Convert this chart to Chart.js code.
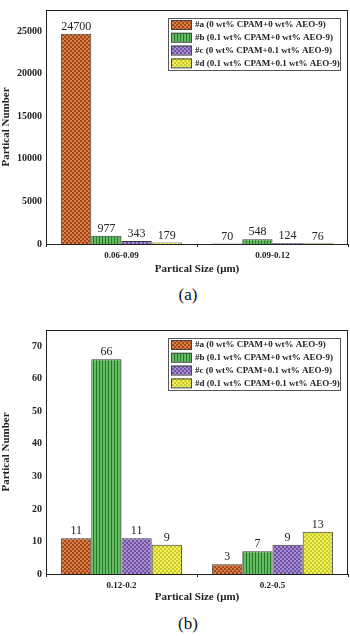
<!DOCTYPE html>
<html>
<head>
<meta charset="utf-8">
<script src="https://cdn.jsdelivr.net/npm/chart.js@4.4.1/dist/chart.umd.min.js"></script>
<style>
  html, body { margin: 0; padding: 0; background: #fff; }
  body { width: 350px; height: 636px; position: relative; overflow: hidden; }
  .box { position: absolute; left: 0; width: 350px; }
  .cap { position: absolute; width: 40px; text-align: center; font-family: "Liberation Serif", serif; font-size: 17px; color: #111; }
</style>
</head>
<body>
<div class="box" style="top:0;height:282px"><canvas id="chartA"></canvas></div>
<div class="cap" style="left:168px;top:285px">(a)</div>
<div class="box" style="top:320px;height:290px"><canvas id="chartB"></canvas></div>
<div class="cap" style="left:168px;top:614px">(b)</div>
<script>
const sizesA = ["0.06-0.09", "0.09-0.12"];
const sizesB = ["0.12-0.2", "0.2-0.5"];
const seriesNames = [
  "#a (0 wt% CPAM+0 wt% AEO-9)",
  "#b (0.1 wt% CPAM+0 wt% AEO-9)",
  "#c (0 wt% CPAM+0.1 wt% AEO-9)",
  "#d (0.1 wt% CPAM+0.1 wt% AEO-9)",
];
const aA = [24700, 70];
const bA = [977, 548];
const cA = [343, 124];
const dA = [179, 76];
const aB = [11, 3];
const bB = [66, 7];
const cB = [11, 9];
const dB = [9, 13];
const ticksA = [0, 5000, 10000, 15000, 20000, 25000];
const ticksB = [0, 10, 20, 30, 40, 50, 60, 70];

const serif = "'Liberation Serif', 'Times New Roman', serif";

// small tiles used as bar fills
function checker(light, dark) {
  const c = document.createElement("canvas");
  c.width = 4; c.height = 4;
  const g = c.getContext("2d");
  g.fillStyle = light; g.fillRect(0, 0, 4, 4);
  g.fillStyle = dark; g.fillRect(0, 0, 2, 2); g.fillRect(2, 2, 2, 2);
  return g.createPattern(c, "repeat");
}
function stripes(light, dark) {
  const c = document.createElement("canvas");
  c.width = 3; c.height = 3;
  const g = c.getContext("2d");
  g.fillStyle = light; g.fillRect(0, 0, 3, 3);
  g.fillStyle = dark; g.fillRect(0, 0, 1, 3);
  return g.createPattern(c, "repeat");
}
const fills = [
  checker("#d8824a", "#a4461a"),
  stripes("#62bc62", "#2a762a"),
  checker("#a78ccf", "#6f52a4"),
  checker("#eeee66", "#cccc22"),
];

const frame = {
  id: "frame",
  afterDraw(chart) {
    const { ctx, chartArea: a } = chart;
    ctx.save();
    ctx.strokeStyle = "#222";
    ctx.lineWidth = 1;
    ctx.strokeRect(a.left + 0.5, a.top + 0.5, a.right - a.left - 1, a.bottom - a.top);
    ctx.restore();
  },
};

const valueLabels = {
  id: "valueLabels",
  afterDatasetsDraw(chart) {
    const { ctx } = chart;
    ctx.save();
    ctx.font = "12px " + serif;
    ctx.fillStyle = "#222";
    ctx.textAlign = "center";
    ctx.textBaseline = "bottom";
    chart.data.datasets.forEach((ds, i) => {
      chart.getDatasetMeta(i).data.forEach((el, j) => {
        ctx.fillText(ds.data[j], el.x, el.y - 1);
      });
    });
    ctx.restore();
  },
};

const boxLegend = {
  id: "boxLegend",
  afterDraw(chart) {
    const { ctx, chartArea: a } = chart;
    const x0 = a.right - 180, y0 = a.top + 8, w = 172, h = 52;
    ctx.save();
    ctx.fillStyle = "#fff";
    ctx.fillRect(x0, y0, w, h);
    ctx.strokeStyle = "#555";
    ctx.lineWidth = 1;
    ctx.strokeRect(x0 + 0.5, y0 + 0.5, w, h);
    ctx.font = "bold 9px " + serif;
    ctx.textBaseline = "middle";
    chart.data.datasets.forEach((ds, i) => {
      const cy = y0 + 6.5 + i * 12.8;
      ctx.fillStyle = ds.backgroundColor;
      ctx.fillRect(x0 + 3, cy - 4.5, 20, 9);
      ctx.strokeStyle = "#444";
      ctx.strokeRect(x0 + 3.5, cy - 4, 20, 9);
      ctx.fillStyle = "#222";
      ctx.fillText(ds.label, x0 + 27, cy + 0.5);
    });
    ctx.restore();
  },
};

function makeChart(id, labels, series, max, tickVals, padTop, axisH) {
  return new Chart(document.getElementById(id), {
    type: "bar",
    data: {
      labels: labels,
      datasets: series.map((vals, i) => ({
        label: seriesNames[i],
        data: vals,
        backgroundColor: fills[i],
        borderColor: "#3a3a3a",
        borderWidth: 1,
        categoryPercentage: 0.8,
        barPercentage: 1,
      })),
    },
    options: {
      responsive: true,
      maintainAspectRatio: false,
      animation: false,
      layout: { padding: { top: padTop, right: 2, left: 0, bottom: 0 } },
      plugins: { legend: { display: false }, tooltip: { enabled: false } },
      scales: {
        x: {
          offset: true,
          grid: { offset: true, drawOnChartArea: false, drawTicks: true, tickLength: 3, color: "#222" },
          border: { display: false },
          ticks: { font: { family: serif, size: 9, weight: "bold" }, color: "#222", padding: 3, maxRotation: 0 },
          title: {
            display: true,
            text: "Partical Size (\u03bcm)",
            font: { family: serif, size: 11, weight: "bold" },
            color: "#222",
            padding: { top: 0, bottom: 6 },
          },
          afterFit(scale) { scale.height = axisH; },
        },
        y: {
          min: 0,
          max: max,
          grid: { display: false, drawTicks: false },
          border: { display: false },
          ticks: {
            font: { family: serif, size: 10, weight: "bold" },
            color: "#222",
            padding: 4,
            callback: (v) => String(v),
          },
          afterBuildTicks(scale) { scale.ticks = tickVals.map((v) => ({ value: v })); },
          title: {
            display: true,
            text: "Partical Number",
            font: { family: serif, size: 11, weight: "bold" },
            color: "#222",
            padding: { top: 0, bottom: 0 },
          },
          afterFit(scale) { scale.width = 46; },
        },
      },
    },
    plugins: [frame, valueLabels, boxLegend],
  });
}

makeChart("chartA", sizesA, [aA, bA, cA, dA], 27500, ticksA, 3, 38);
makeChart("chartB", sizesB, [aB, bB, cB, dB], 75, ticksB, 9, 36);
</script>
</body>
</html>
